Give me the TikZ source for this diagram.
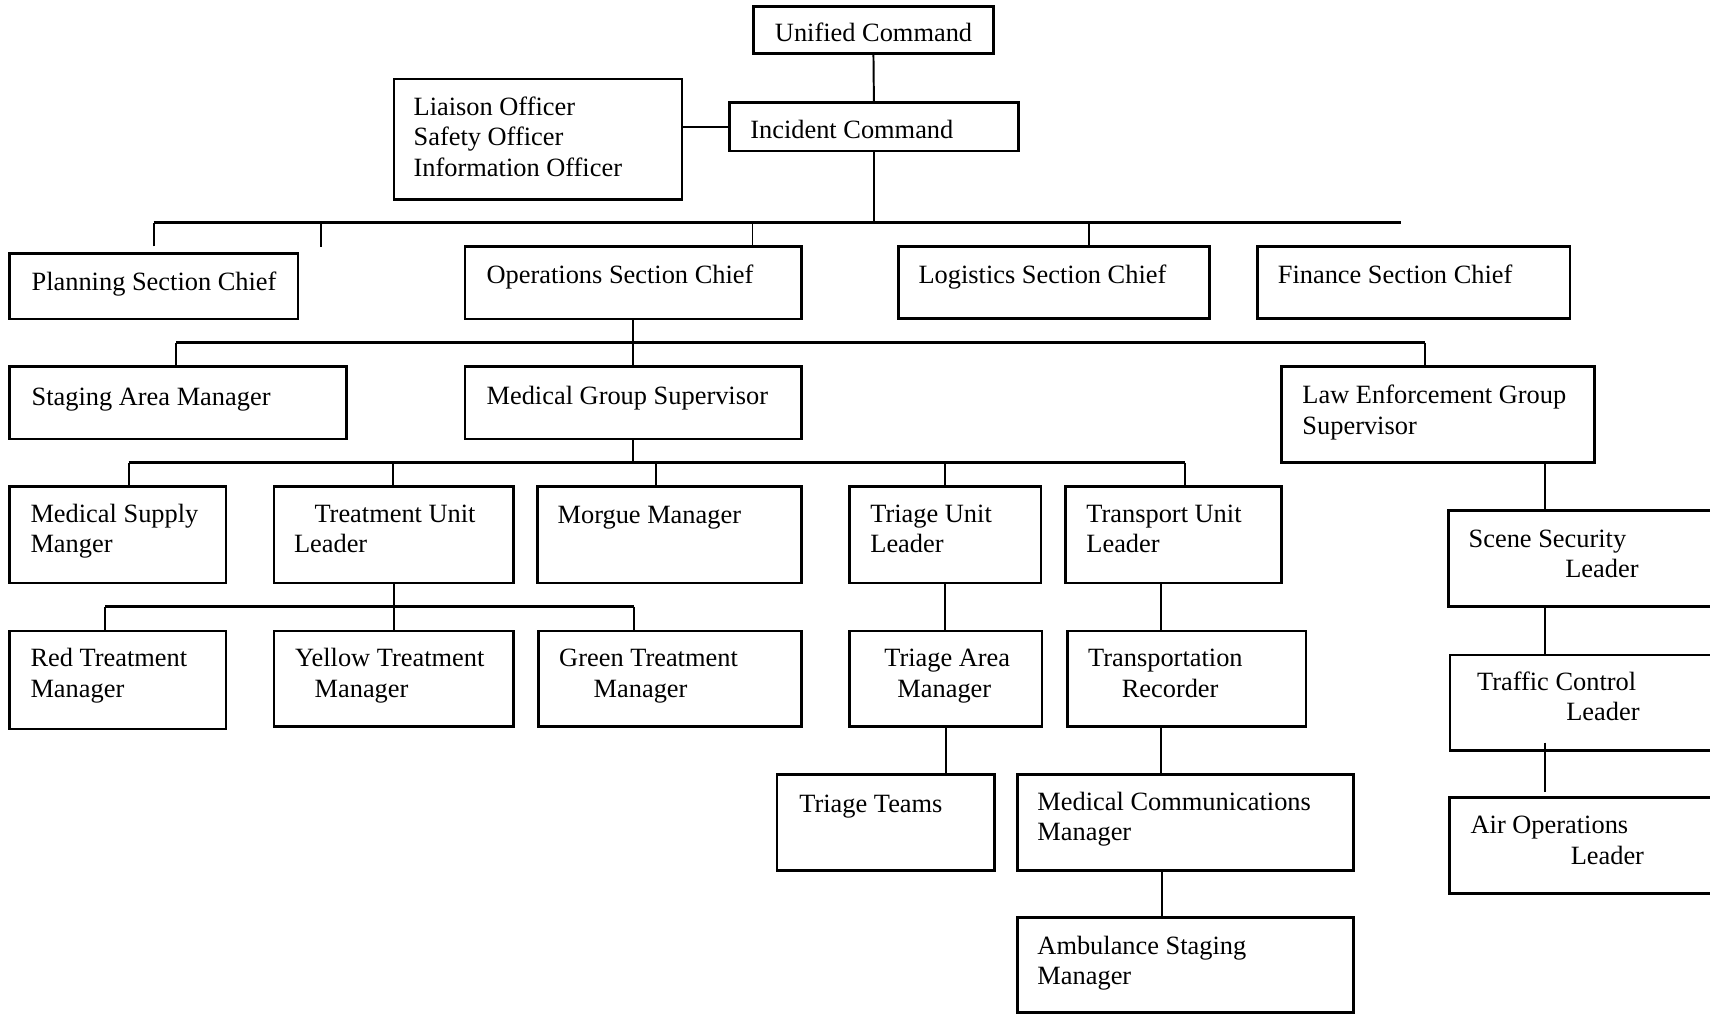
\documentclass[tikz,border=0pt]{standalone}
\usepackage{fontspec}
\setmainfont{Liberation Serif}
\usetikzlibrary{fit}

\tikzset{
  box/.style={draw, rectangle, line width=1.2pt, inner sep=0pt, outer sep=0pt},
  bus/.style={line width=1.3pt},
  link/.style={line width=0.9pt},
  lbl/.style={anchor=base west, inner sep=0pt, outer sep=0pt,
              font=\fontsize{12.1}{14}\selectfont},
}
% several lines of text, first baseline on the node's base anchor
\newcommand\stack[1]{\begin{tabular}[t]{@{}l@{}}#1\end{tabular}}

\begin{document}
\begin{tikzpicture}[x=0.5pt,y=-0.5pt]
  \useasboundingbox (0,0) rectangle (1568,929);
  \fill[white] (0,0) rectangle (1568,929);
  \clip (0,0) rectangle (1568,929);

  % ---------- boxes ----------
  \node[box, fit={(691,6.1) (910.8,48.9)}]       (uc)    {};
  \node[box, fit={(668.8,94.1) (933.9,138.5)}]   (ic)    {};
  \node[box, fit={(361.2,72.4) (625.2,182.8)}]   (off)   {};
  \node[box, fit={(8.6,232.3) (273.2,292.5)}]    (plan)  {};
  \node[box, fit={(426.3,226.2) (735.2,292.5)}]  (ops)   {};
  \node[box, fit={(823.7,226.2) (1109.3,292.2)}] (logi)  {};
  \node[box, fit={(1153,226.2) (1439.7,292.2)}]  (fin)   {};
  \node[box, fit={(8.6,336.2) (317.5,402.5)}]    (stag)  {};
  \node[box, fit={(426.3,336.2) (735.2,402.5)}]  (mgs)   {};
  \node[box, fit={(1175.2,336.2) (1461.8,424.3)}] (law)  {};
  \node[box, fit={(8.6,446.2) (207.1,534.6)}]    (msup)  {};
  \node[box, fit={(251.3,446.2) (471.1,534.6)}]  (tul)   {};
  \node[box, fit={(493,446.2) (735.2,534.6)}]    (morg)  {};
  \node[box, fit={(779,446.2) (954.5,534.6)}]    (triu)  {};
  \node[box, fit={(977.2,446.2) (1175.3,534.6)}] (trnu)  {};
  \node[box, fit={(1328.1,468.2) (1610,556.3)}]  (scene) {};
  \node[box, fit={(8.6,578.6) (207.1,668.4)}]    (red)   {};
  \node[box, fit={(251.3,578.6) (471.1,666.3)}]  (yel)   {};
  \node[box, fit={(494,578.6) (735.2,666.3)}]    (grn)   {};
  \node[box, fit={(779,578.6) (955.6,666.3)}]    (tria)  {};
  \node[box, fit={(978.7,578.6) (1197.4,666.3)}] (trec)  {};
  \node[box, fit={(1329.4,600.6) (1610,688.3)}]  (traf)  {};
  \node[box, fit={(712.4,710) (911.9,798.3)}]    (tteam) {};
  \node[box, fit={(933,710) (1241.3,798.3)}]     (mcom)  {};
  \node[box, fit={(1329,731.3) (1610,819.1)}]    (air)   {};
  \node[box, fit={(933,841.4) (1241.3,928.5)}]   (amb)   {};

  % ---------- texts ----------
  \node[lbl, anchor=base] (uc-t) at (801,38.2) {Unified Command};
  \node[lbl] (ic-t)    at (688,127)      {Incident Command};
  \node[lbl] (off-t)   at (379.3,105.8)  {\stack{Liaison Officer\\Safety Officer\\Information Officer}};
  \node[lbl] (plan-t)  at (29,266.3)     {Planning Section Chief};
  \node[lbl] (ops-t)   at (446.2,260.2)  {Operations Section Chief};
  \node[lbl] (logi-t)  at (842.3,260.2)  {Logistics Section Chief};
  \node[lbl] (fin-t)   at (1171.7,260.2) {Finance Section Chief};
  \node[lbl] (stag-t)  at (29,371.7)     {Staging Area Manager};
  \node[lbl] (mgs-t)   at (446.2,370.5)  {Medical Group Supervisor};
  \node[lbl] (law-t)   at (1194.3,370.2) {\stack{Law Enforcement Group\\Supervisor}};
  \node[lbl] (msup-t)  at (28,478.7)     {\stack{Medical Supply\\Manger}};
  \node[lbl] (tul-t)   at (269.6,479)    {\stack{\hspace*{9.4pt}Treatment Unit\\Leader}};
  \node[lbl] (morg-t)  at (511.3,480)    {Morgue Manager};
  \node[lbl] (triu-t)  at (798.1,479)    {\stack{Triage Unit\\Leader}};
  \node[lbl] (trnu-t)  at (996.2,479)    {\stack{Transport Unit\\Leader}};
  \node[lbl] (scene-t) at (1346.7,501.6) {\stack{Scene Security\\\hspace*{44.3pt}Leader}};
  \node[lbl] (red-t)   at (28,611.6)     {\stack{Red Treatment\\Manager}};
  \node[lbl] (yel-t)   at (270.7,611.6)  {\stack{Yellow Treatment\\\hspace*{8.9pt}Manager}};
  \node[lbl] (grn-t)   at (512.8,611.6)  {\stack{Green Treatment\\\hspace*{15.8pt}Manager}};
  \node[lbl] (tria-t)  at (810.9,611.6)  {\stack{Triage Area\\\hspace*{6pt}Manager}};
  \node[lbl] (trec-t)  at (997.8,611.6)  {\stack{Transportation\\\hspace*{15.4pt}Recorder}};
  \node[lbl] (traf-t)  at (1354.4,633)   {\stack{Traffic Control\\\hspace*{40.9pt}Leader}};
  \node[lbl] (tteam-t) at (733,744.6)    {Triage Teams};
  \node[lbl] (mcom-t)  at (951.3,743)    {\stack{Medical Communications\\Manager}};
  \node[lbl] (air-t)   at (1348.5,764.5) {\stack{Air Operations\\\hspace*{45.9pt}Leader}};
  \node[lbl] (amb-t)   at (951.3,875)    {\stack{Ambulance Staging\\Manager}};

  % ---------- bus positions ----------
  \coordinate (b1L) at (140.9,204.2);  \coordinate (b1R) at (1284.8,204.2);
  \coordinate (b1x) at (294,204.2);
  \coordinate (b1o) at (690,204.2);    \coordinate (b1l) at (998.2,204.2);
  \coordinate (b2L) at (161.8,314.2);  \coordinate (b2R) at (1306.4,314.2);
  \coordinate (b3L) at (118,424.2);    \coordinate (b3R) at (1086.3,424.2);
  \coordinate (b3t) at (360.2,424.2);  \coordinate (b3m) at (601.8,424.2);
  \coordinate (b3r) at (866.5,424.2);
  \coordinate (b4L) at (96.7,556.3);   \coordinate (b4R) at (581,556.3);
  \coordinate (b4y) at (361,556.3);
  \coordinate (xtrn) at (1064.5,0);
  \coordinate (xamb) at (1065.2,0);
  \coordinate (xsec) at (1417,0);

  % ---------- command level ----------
  \draw[link] (uc.south) -- (ic.north);
  \draw[link] (ic.west) -- (ic.west -| off.east);
  \draw[link] (ic.south) -- (ic.south |- b1L);
  \draw[bus]  (b1L) -- (b1R);
  \draw[link] (plan.north) ++(0,-6.3) -- (plan.north |- b1L);
  \draw[link] (b1x) -- ++(0,22);
  \draw[link] (b1o) -- (b1o |- ops.north);
  \draw[link] (b1l) -- (b1l |- logi.north);

  % ---------- operations ----------
  \draw[link] (ops.south) -- (mgs.north);
  \draw[bus]  (b2L) -- (b2R);
  \draw[link] (b2L) -- (b2L |- stag.north);
  \draw[link] (b2R) -- (b2R |- law.north);

  % ---------- medical group ----------
  \draw[link] (mgs.south) -- (mgs.south |- b3L);
  \draw[bus]  (b3L) -- (b3R);
  \draw[link] (b3L) -- (b3L |- msup.north);
  \draw[link] (b3t) -- (b3t |- tul.north);
  \draw[link] (b3m) -- (b3m |- morg.north);
  \draw[link] (b3r) -- (b3r |- triu.north);
  \draw[link] (b3R) -- (b3R |- trnu.north);

  % ---------- treatment unit ----------
  \draw[link] (tul.south) -- (tul.south |- b4L);
  \draw[bus]  (b4L) -- (b4R);
  \draw[link] (b4L) -- (b4L |- red.north);
  \draw[link] (b4y) -- (b4y |- yel.north);
  \draw[link] (b4R) -- (b4R |- grn.north);

  % ---------- triage and transport ----------
  \draw[link] (triu.south) -- (triu.south |- tria.north);
  \draw[link] (tria.south) -- (tria.south |- tteam.north);
  \draw[link] (trnu.south -| xtrn) -- (trec.north -| xtrn);
  \draw[link] (trec.south -| xtrn) -- (mcom.north -| xtrn);
  \draw[link] (mcom.south -| xamb) ++(0,-1.2) -- (amb.north -| xamb);

  % ---------- law enforcement ----------
  \draw[link] (law.south -| xsec) -- (scene.north -| xsec);
  \draw[link] (scene.south -| xsec) -- (traf.north -| xsec);
  \draw[link] (traf.south -| xsec) ++(0,-7.3) -- ++(0,45);
\end{tikzpicture}
\end{document}
